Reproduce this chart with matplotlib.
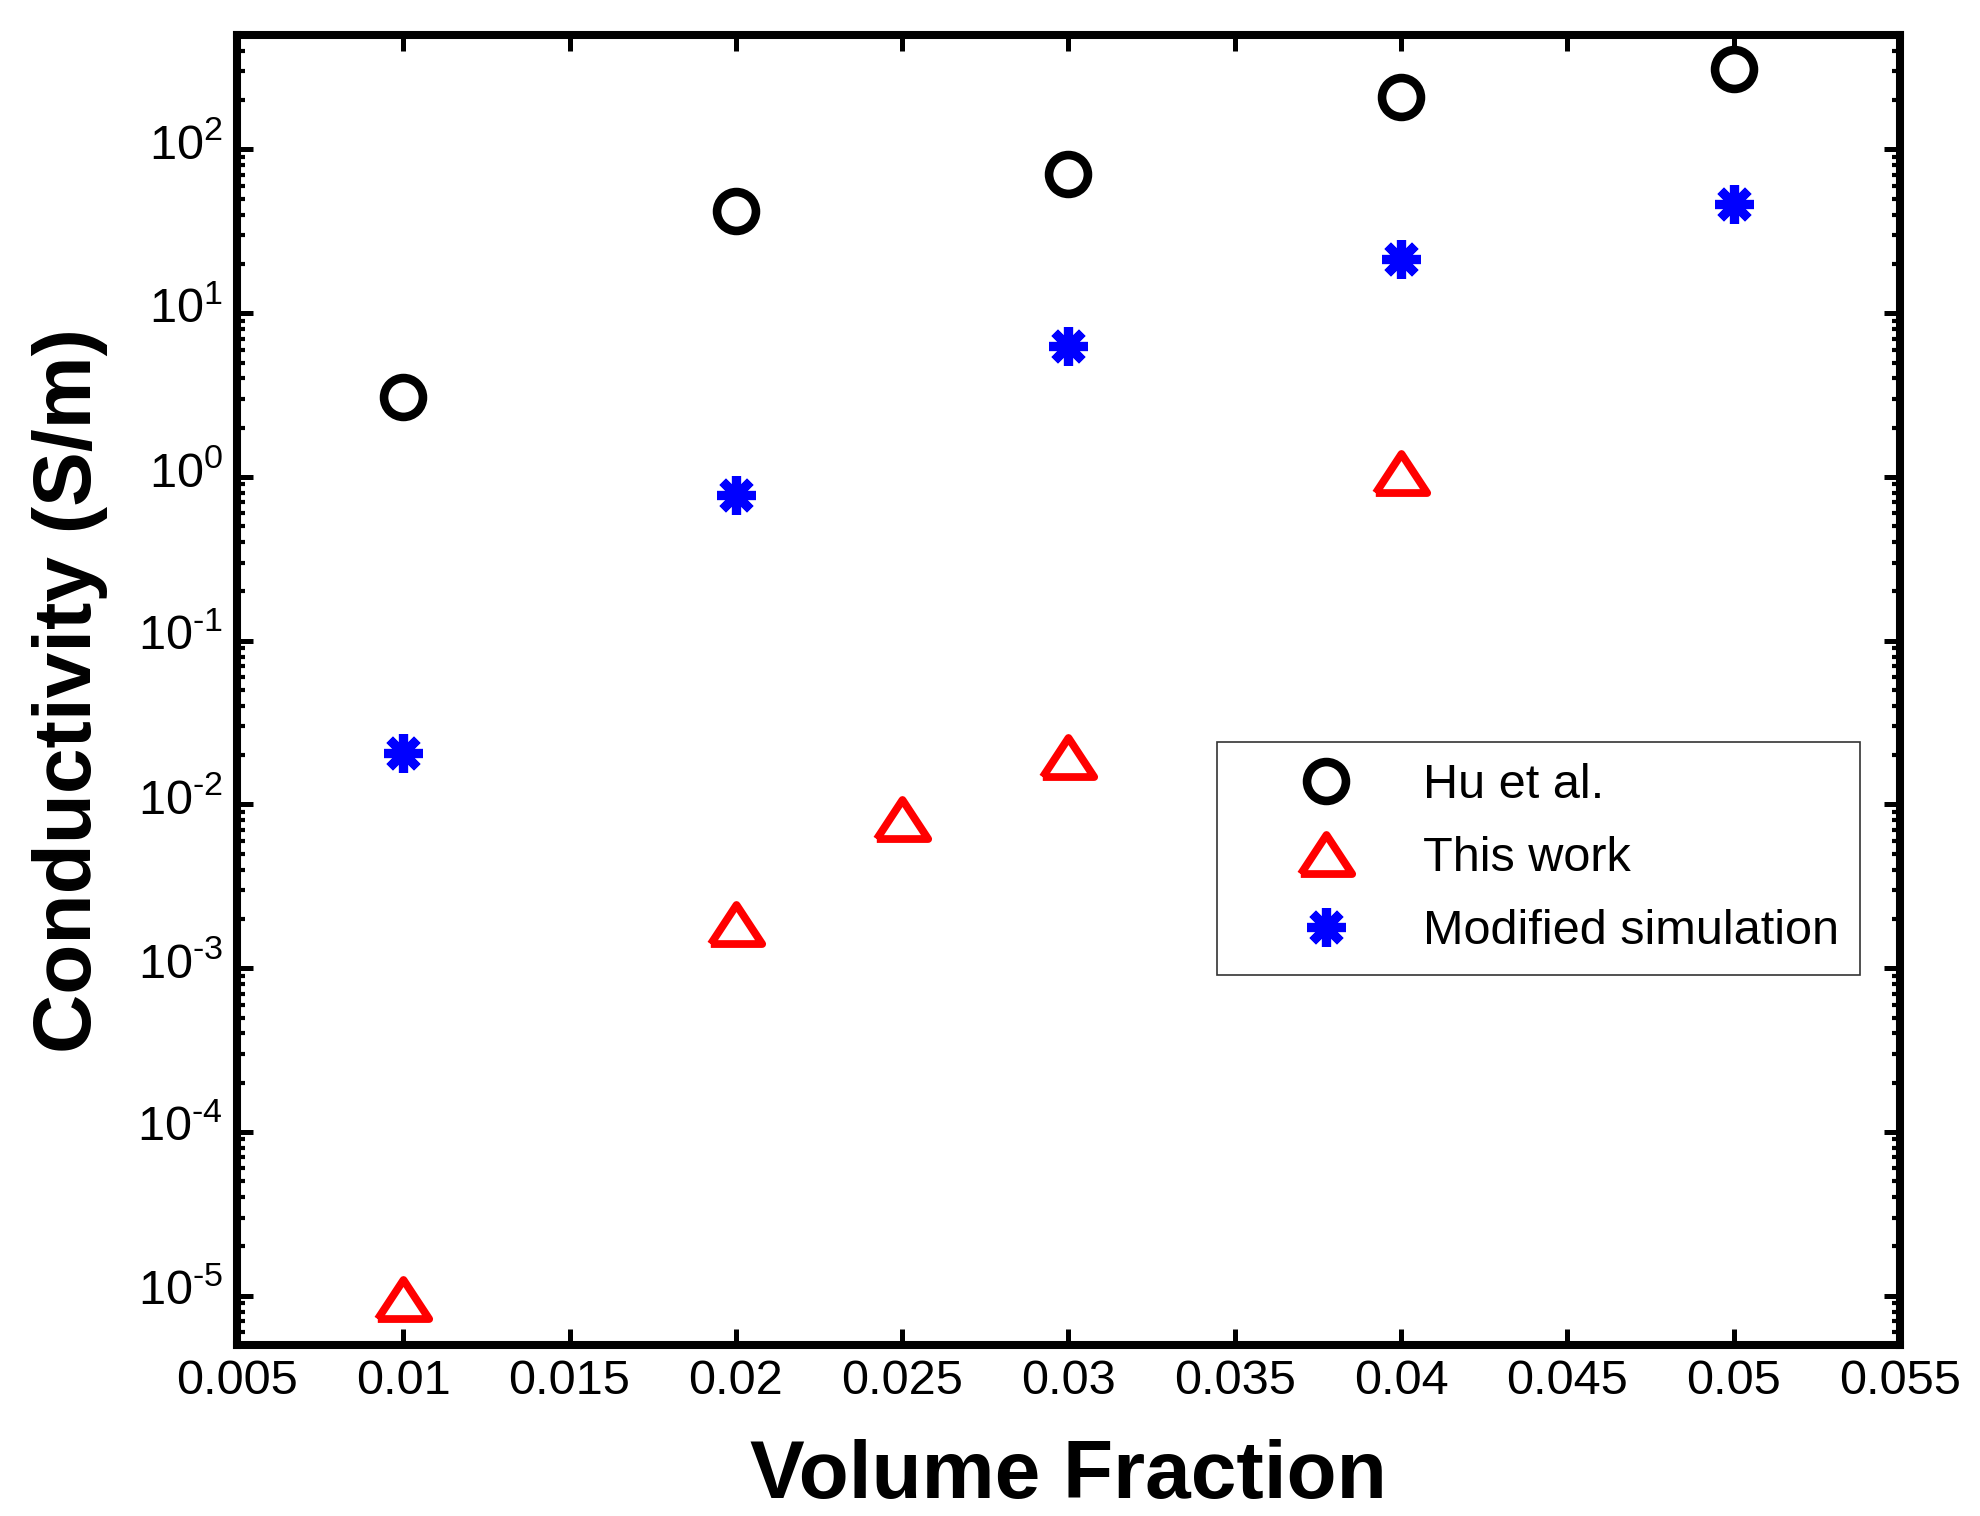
import matplotlib
matplotlib.use('Agg')
import matplotlib.pyplot as plt
import matplotlib.transforms as mtransforms
from matplotlib.markers import MarkerStyle
from matplotlib.ticker import LogLocator, FixedLocator, FuncFormatter, NullFormatter
import numpy as np

plt.rcParams['font.family'] = ['Liberation Sans', 'DejaVu Sans']
plt.rcParams['mathtext.fontset'] = 'custom'
plt.rcParams['mathtext.rm'] = 'Liberation Sans'
plt.rcParams['mathtext.it'] = 'Liberation Sans:italic'
plt.rcParams['mathtext.bf'] = 'Liberation Sans:bold'

# ---- data ----
x_hu = [0.01, 0.02, 0.03, 0.04, 0.05]
y_hu = [3.08, 42.0, 71.0, 209.0, 312.0]

x_work = [0.01, 0.02, 0.025, 0.03, 0.04]
y_work = [9.5e-6, 1.87e-3, 8.2e-3, 0.0195, 1.05]

x_sim = [0.01, 0.02, 0.03, 0.04, 0.05]
y_sim = [0.0206, 0.774, 6.3, 21.4, 46.5]

labels = ['Hu et al.', 'This work', 'Modified simulation']
x_ticks = [0.005, 0.01, 0.015, 0.02, 0.025, 0.03, 0.035, 0.04, 0.045, 0.05, 0.055]
x_ticklabels = ['0.005', '0.01', '0.015', '0.02', '0.025', '0.03', '0.035', '0.04', '0.045', '0.05', '0.055']

fig = plt.figure(figsize=(19.81, 15.16), dpi=100)
ax = fig.add_axes([0.1196, 0.1128, 0.8395, 0.8641])

tri = MarkerStyle([(-1, -0.76), (1, -0.76), (0, 0.76), (-1, -0.76)], joinstyle='miter')
ast = MarkerStyle((8, 2, 0))

ax.plot(x_hu, y_hu, linestyle='none', marker='o', ms=28, mew=6.2,
        mfc='none', mec='black', label=labels[0])
ax.plot(x_work, y_work, linestyle='none', marker=tri, ms=37, mew=5.6,
        mfc='none', mec='#ff0000', label=labels[1])
ax.plot(x_sim, y_sim, linestyle='none', marker=ast, ms=28, mew=6.6,
        mfc='#0000ff', mec='#0000ff', label=labels[2])

ax.set_yscale('log')
ax.set_xlim(0.005, 0.055)
ax.set_ylim(5e-6, 500)

ax.xaxis.set_major_locator(FixedLocator(x_ticks))
ax.set_xticklabels(x_ticklabels)
ax.yaxis.set_major_locator(LogLocator(base=10, numticks=20))
ax.yaxis.set_minor_locator(LogLocator(base=10, subs=np.arange(2, 10), numticks=20))
ax.yaxis.set_minor_formatter(NullFormatter())
ax.yaxis.set_major_formatter(FuncFormatter(
    lambda v, p: r'$\mathregular{10^{\text{%d}}}$' % int(round(np.log10(v)))))

for s in ax.spines.values():
    s.set_linewidth(5.8)

ax.tick_params(which='both', direction='in', top=True, right=True, labelsize=35)
ax.tick_params(which='major', length=11.5, width=3.6)
ax.tick_params(which='minor', length=5.8, width=3.0)
ax.tick_params(axis='x', pad=10)
ax.tick_params(axis='y', pad=10)

ax.set_xlabel('Volume Fraction', fontsize=59, fontweight='bold')
ax.set_ylabel('Conductivity (S/m)', fontsize=59, fontweight='bold')
ax.xaxis.set_label_coords(0.5, -0.072)
ax.yaxis.set_label_coords(-0.0774, 0.5)

leg = ax.legend(loc='upper left', bbox_to_anchor=(0.5893, 0.4603), borderaxespad=0,
                fontsize=35, frameon=True, fancybox=False, numpoints=1,
                borderpad=0.44, handlelength=3.6, handletextpad=0.2, labelspacing=0.57)
leg.get_frame().set_edgecolor('black')
leg.get_frame().set_linewidth(1.2)

# lift y tick labels so the base "10" is centred on the tick
fig.canvas.draw()
shift = mtransforms.ScaledTranslation(0, 6 / 72, fig.dpi_scale_trans)
for t in ax.yaxis.get_major_ticks():
    t.label1.set_transform(t.label1.get_transform() + shift)

fig.savefig('out.png', dpi=100, facecolor='white')
